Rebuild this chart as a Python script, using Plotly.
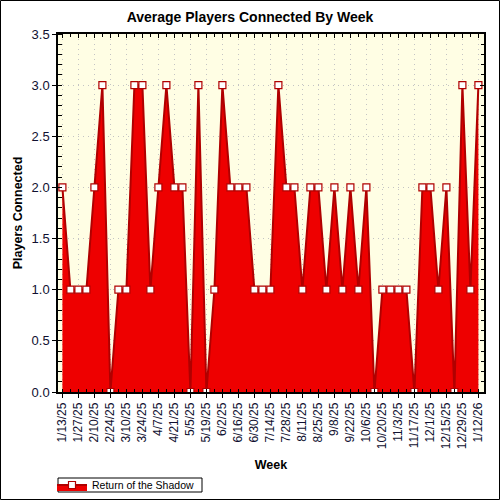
import plotly.graph_objects as go

# data
weeks = ["1/13/25", "1/20/25", "1/27/25", "2/3/25", "2/10/25", "2/17/25", "2/24/25", "3/3/25",
         "3/10/25", "3/17/25", "3/24/25", "3/31/25", "4/7/25", "4/14/25", "4/21/25", "4/28/25",
         "5/5/25", "5/12/25", "5/19/25", "5/26/25", "6/2/25", "6/9/25", "6/16/25", "6/23/25",
         "6/30/25", "7/7/25", "7/14/25", "7/21/25", "7/28/25", "8/4/25", "8/11/25", "8/18/25",
         "8/25/25", "9/1/25", "9/8/25", "9/15/25", "9/22/25", "9/29/25", "10/6/25", "10/13/25",
         "10/20/25", "10/27/25", "11/3/25", "11/10/25", "11/17/25", "11/24/25", "12/1/25", "12/8/25",
         "12/15/25", "12/22/25", "12/29/25", "1/5/26", "1/12/26"]
players = [2, 1, 1, 1, 2, 3, 0, 1, 1, 3, 3, 1, 2, 3, 2, 2, 0, 3, 0, 1, 3, 2, 2, 2, 1, 1, 1,
           3, 2, 2, 1, 2, 2, 1, 2, 1, 2, 1, 2, 0, 1, 1, 1, 1, 0, 2, 2, 1, 2, 0, 3, 1, 3]
series_name = "Return of the Shadow"

idx = list(range(len(weeks)))
tick_idx = idx[::2]
tick_txt = weeks[::2]

DARK = "#B00000"
FONT = "Liberation Sans, Arial, sans-serif"
TXT = "#101030"
GRID = "#C4C4C4"

fig = go.Figure()
fig.add_trace(go.Scatter(
    x=idx, y=players, name=series_name, mode="lines+markers",
    fill="tozeroy", fillcolor="#EE0000",
    line=dict(color=DARK, width=2),
    marker=dict(symbol="square", size=7, color="white", line=dict(color=DARK, width=1.2)),
))
# empty trace so the mirrored top/right axes get drawn
fig.add_trace(go.Scatter(x=[], y=[], xaxis="x2", yaxis="y2", showlegend=False, hoverinfo="skip"))

L, R, T, B = 58, 16, 34, 108
pw, ph = 500 - L - R, 500 - T - B

def px_x(p):
    # pixel column -> paper x
    return (p - L) / pw

def px_y(p):
    # pixel row -> paper y
    return (500 - B - p) / ph

fig.update_layout(
    width=500, height=500,
    margin=dict(l=L, r=R, t=T, b=B, autoexpand=False),
    paper_bgcolor="white", plot_bgcolor="#FFFEE4",
    font=dict(family=FONT, size=12, color=TXT),
    title=dict(text="<b>Average Players Connected By Week</b>", x=0.5, xanchor="center",
               y=1 - 17 / 500, yanchor="middle", font=dict(size=14, color="black")),
    showlegend=True,
    legend=dict(x=px_x(52), xanchor="left", y=px_y(485), yanchor="middle", orientation="h",
                borderwidth=0, bgcolor="rgba(0,0,0,0)",
                font=dict(size=10.5, color="black"), itemwidth=30),
    xaxis=dict(
        range=[-0.55, 52.7], tickmode="array", tickvals=tick_idx, ticktext=tick_txt,
        tickangle=-90, tickfont=dict(size=12, color=TXT),
        ticks="outside", ticklen=4, tickcolor="black",
        minor=dict(ticks="inside", ticklen=3, dtick=1, tick0=0, tickcolor="black", showgrid=False),
        showline=True, linecolor="black", linewidth=1.5,
        showgrid=True, gridcolor=GRID, griddash="1px,4px", gridwidth=1,
        zeroline=False,
        title=dict(text="<b>Week</b>", font=dict(size=12.5, color="black"), standoff=12),
    ),
    yaxis=dict(
        range=[0, 3.5], dtick=0.5, tick0=0, tickformat=".1f",
        tickfont=dict(size=13, color=TXT),
        ticks="outside", ticklen=4, tickcolor="black",
        minor=dict(ticks="inside", ticklen=4, dtick=0.1, tickcolor="black", showgrid=False),
        showline=True, linecolor="black", linewidth=1.5,
        showgrid=True, gridcolor=GRID, griddash="1px,4px", gridwidth=1,
        zeroline=False,
        title=dict(text="<b>Players Connected</b>", font=dict(size=12.5, color="black"), standoff=6),
    ),
    xaxis2=dict(
        overlaying="x", side="top", matches="x", tickmode="array", tickvals=tick_idx,
        showticklabels=False, ticks="inside", ticklen=4, tickcolor="black",
        minor=dict(ticks="inside", ticklen=3, dtick=1, tick0=0, tickcolor="black"),
        showline=True, linecolor="black", linewidth=1.5, showgrid=False, zeroline=False,
    ),
    yaxis2=dict(
        overlaying="y", side="right", matches="y", dtick=0.5, tick0=0,
        showticklabels=False, ticks="inside", ticklen=4, tickcolor="black",
        minor=dict(ticks="inside", ticklen=3, dtick=0.1, tickcolor="black"),
        showline=True, linecolor="black", linewidth=1.5, showgrid=False, zeroline=False,
    ),
)

# legend frame
fig.add_shape(type="rect", xref="paper", yref="paper",
              x0=px_x(58), x1=px_x(202), y0=px_y(492), y1=px_y(478),
              line=dict(color="black", width=1), fillcolor="rgba(0,0,0,0)")

# black frame around the whole picture
fig.add_shape(type="rect", xref="paper", yref="paper",
              x0=px_x(0.5), x1=px_x(499.5), y0=px_y(499.5), y1=px_y(0.5),
              line=dict(color="black", width=1), fillcolor="rgba(0,0,0,0)")

# page has a default body margin, drop it so the 500x500 figure fills the window
fig.write_html("out.html", config={"displayModeBar": False},
               post_script="document.body.style.margin='0';")
